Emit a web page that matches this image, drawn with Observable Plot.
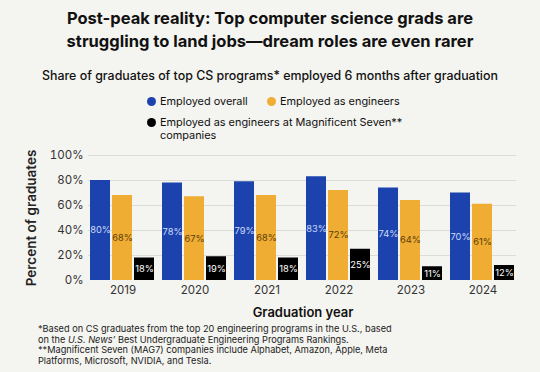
<!DOCTYPE html>
<html><head><meta charset="utf-8">
<script src="https://cdn.jsdelivr.net/npm/d3@7"></script>
<script src="https://cdn.jsdelivr.net/npm/@observablehq/plot@0.6"></script>
<style>
html,body{margin:0;padding:0;background:#f4f4f0;}
body{font-family:Inter,"Noto Sans",sans-serif;color:#111;}
#wrap{position:relative;width:540px;height:372px;overflow:hidden;background:#f4f4f0;}
#title{position:absolute;top:7px;left:0;width:540px;text-align:center;font-size:16.5px;font-weight:700;line-height:23px;color:#111;}
#subtitle{position:absolute;top:67px;left:0;width:540px;text-align:center;font-size:12.4px;font-weight:500;line-height:18px;color:#111;}
#legend{position:absolute;top:95px;left:147px;font-size:10.9px;line-height:13px;color:#111;}
.item{position:absolute;white-space:nowrap;}
.dot{position:absolute;left:0;top:2px;width:9px;height:9px;border-radius:50%;}
.lab{position:absolute;left:13px;top:0;}
.layer{position:absolute;top:145px;left:0;}
#foot{position:absolute;top:324px;left:38px;font-size:9.2px;line-height:10.6px;color:#222;}
g[aria-label="y-axis label"] text, g[aria-label="y-axis label"]{font-size:13.5px;font-weight:600;fill:#222;}
g[aria-label="fx-axis label"] text, g[aria-label="fx-axis label"]{font-size:13px;font-weight:600;fill:#111;}
</style></head>
<body><div id="wrap">
<div id="title">Post-peak reality: Top computer science grads are<br>struggling to land jobs—dream roles are even rarer</div>
<div id="subtitle">Share of graduates of top CS programs* employed 6 months after graduation</div>
<div id="legend"></div>
<div id="grid" class="layer"></div>
<div id="chart" class="layer"></div>
<div id="foot">*Based on CS graduates from the top 20 engineering programs in the U.S., based<br>on the <i>U.S. News’</i> Best Undergraduate Engineering Programs Rankings.<br>**Magnificent Seven (MAG7) companies include Alphabet, Amazon, Apple, Meta<br>Platforms, Microsoft, NVIDIA, and Tesla.</div>
</div>
<script>
const years = ["2019","2020","2021","2022","2023","2024"];
const series = ["Employed overall","Employed as engineers","Employed as engineers at Magnificent Seven** companies"];
const overall = [80,78,79,83,74,70];
const engineers = [68,67,68,72,64,61];
const mag7 = [18,19,18,25,11,12];
const yTicks = [0,20,40,60,80,100];

const barColors = ["#1c43ad","#f0ad33","#000000"];
const labelColors = ["#cddaf8","#5a3c0a","#ffffff"];

const values = [overall, engineers, mag7];
const data = [];
years.forEach((y,i)=>series.forEach((s,j)=>data.push({year:y, series:s, value:values[j][i]})));

// legend
const legend = document.getElementById("legend");
const pos = [{l:0,t:0},{l:120,t:0},{l:0,t:21}];
series.forEach((s,j)=>{
  const it = document.createElement("div");
  it.className="item";
  it.style.left=pos[j].l+"px"; it.style.top=pos[j].t+"px";
  const txt = j===2 ? "Employed as engineers at Magnificent Seven**<br>companies" : s;
  it.innerHTML = `<div class="dot" style="background:${barColors[j]}"></div><div class="lab">${txt}</div>`;
  legend.appendChild(it);
});

const common = {
  width:540, height:175,
  marginTop:10, marginBottom:40, marginLeft:88, marginRight:24,
  style:{background:"transparent", fontFamily:"Inter, 'Noto Sans', sans-serif", fontSize:"11px", color:"#333"}
};

// continuous gridlines underneath
const grid = Plot.plot({
  ...common,
  y:{domain:[0,100], axis:null},
  marks:[ Plot.ruleY(yTicks.slice(1), {stroke:"#dcdcd8", strokeWidth:1}) ]
});
document.getElementById("grid").appendChild(grid);

const chart = Plot.plot({
  ...common,
  fx:{domain:years, paddingInner:0.1, paddingOuter:0},
  x:{domain:series, paddingInner:0.08, paddingOuter:0, axis:null},
  y:{domain:[0,100], axis:null},
  color:{domain:series, range:barColors},
  marks:[
    Plot.barY(data, {fx:"year", x:"series", y:"value", fill:"series"}),
    ...series.map((s,j)=>Plot.text(data.filter(d=>d.series===s), {
      fx:"year", x:"series", y:d=>d.value/2, text:d=>d.value+"%",
      fill:labelColors[j], fontSize:9.3
    })),
    Plot.axisY({ticks:yTicks, tickFormat:d=>d+"%", tickSize:0, tickPadding:7,
      label:"Percent of graduates", labelAnchor:"center", labelOffset:64, labelArrow:"none", fontSize:11.5}),
    Plot.axisFx({anchor:"bottom", tickSize:0, tickPadding:5, label:"Graduation year", labelAnchor:"center", labelOffset:36, labelArrow:"none", fontSize:11.5})
  ]
});
document.getElementById("chart").appendChild(chart);
</script>
</body></html>
